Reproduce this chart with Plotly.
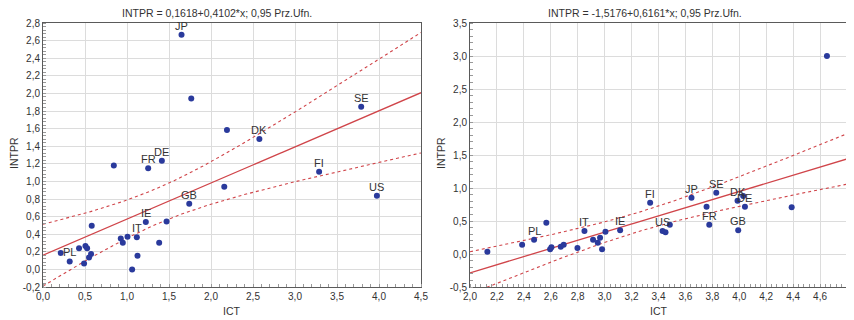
import numpy as np
import plotly.graph_objects as go

# ---------------- data ----------------
# Left panel
L_x = [0.843, 1.252, 1.415, 2.158, 3.287, 3.975, 1.741, 1.224, 1.471, 0.580,
       1.117, 1.006, 0.926, 0.950, 1.383, 0.429, 0.505, 0.525, 0.211, 0.318,
       0.572, 0.548, 0.489, 1.125, 1.061, 1.649, 1.765, 2.190, 2.576, 3.788]
L_y = [1.180, 1.150, 1.235, 0.940, 1.110, 0.837, 0.746, 0.538, 0.545, 0.496,
       0.364, 0.371, 0.352, 0.303, 0.303, 0.239, 0.265, 0.239, 0.186, 0.091,
       0.174, 0.136, 0.068, 0.155, 0.000, 2.667, 1.943, 1.585, 1.482, 1.848]
L_lab = ["", "FR", "DE", "", "FI", "US", "GB", "IE", "", "",
         "IT", "", "", "", "", "", "", "", "", "PL",
         "", "", "", "", "", "JP", "", "", "DK", "SE"]
L_coef = (0.1618, 0.4102)
L_title = "INTPR = 0,1618+0,4102*x; 0,95 Prz.Ufn."

# Right panel
R_x = [2.129, 2.387, 2.476, 2.567, 2.595, 2.605, 2.674, 2.696, 2.798, 2.850,
       2.914, 2.949, 2.966, 2.981, 3.006, 3.115, 3.338, 3.430, 3.452, 3.484,
       3.645, 3.757, 3.777, 3.829, 3.987, 4.029, 4.042, 3.992, 4.389, 4.651]
R_y = [0.035, 0.141, 0.217, 0.475, 0.071, 0.101, 0.111, 0.141, 0.091, 0.348,
       0.217, 0.172, 0.247, 0.071, 0.338, 0.359, 0.778, 0.348, 0.328, 0.444,
       0.854, 0.717, 0.444, 0.929, 0.808, 0.879, 0.717, 0.359, 0.707, 3.000]
R_lab = ["", "", "PL", "", "", "", "", "", "", "IT",
         "", "", "", "", "", "IE", "FI", "US", "", "",
         "JP", "", "FR", "SE", "DK", "", "DE", "GB", "", ""]
R_coef = (-1.5176, 0.6161)
R_title = "INTPR = -1,5176+0,6161*x; 0,95 Prz.Ufn."

L_xticks = [0.0, 0.5, 1.0, 1.5, 2.0, 2.5, 3.0, 3.5, 4.0, 4.5]
L_yticks = [-0.2, 0.0, 0.2, 0.4, 0.6, 0.8, 1.0, 1.2, 1.4, 1.6, 1.8, 2.0, 2.2, 2.4, 2.6, 2.8]
R_xticks = [2.0, 2.2, 2.4, 2.6, 2.8, 3.0, 3.2, 3.4, 3.6, 3.8, 4.0, 4.2, 4.4, 4.6, 4.8]
R_yticks = [-0.5, 0.0, 0.5, 1.0, 1.5, 2.0, 2.5, 3.0, 3.5]

T_CRIT = 2.048  # t(0.975, df=28)

X_TITLE = "ICT"
Y_TITLE = "INTPR"

# ---------------- styling ----------------
OFF = 8                      # default page body margin
W, H = 854 - OFF, 320 - OFF  # figure size so that it fills the window
FONT = "Liberation Sans, Arial, sans-serif"
PT_COLOR = "#2a3a9c"
LINE_COLOR = "#d0454a"
GRID = "#dcdcdc"
FRAME = "#5a5a5a"
TXT = "#333333"


def px_x(p):
    return (p - OFF) / W


def px_y(p):
    return 1 - (p - OFF) / H


fig = go.Figure()
ann = []


def fmt(v):
    return ("%.1f" % v).replace(".", ",")


def add_panel(xs, ys, labs, coef, xticks, yticks, xa, ya, xdom):
    xs = np.array(xs); ys = np.array(ys)
    b0, b1 = coef
    n = len(xs)
    resid = ys - (b0 + b1 * xs)
    s = np.sqrt(np.sum(resid ** 2) / (n - 2))
    m = xs.mean()
    sxx = np.sum((xs - m) ** 2)
    gx = np.linspace(xticks[0], xticks[-1], 200)
    fit = b0 + b1 * gx
    hw = T_CRIT * s * np.sqrt(1.0 / n + (gx - m) ** 2 / sxx)
    axn = "" if xa == "x" else xa[1:]
    for yy, dash, w in [(fit, "solid", 1.3), (fit + hw, "dot", 1.1), (fit - hw, "dot", 1.1)]:
        fig.add_trace(go.Scatter(x=gx, y=yy, mode="lines", xaxis=xa, yaxis=ya,
                                 line=dict(color=LINE_COLOR, width=w, dash=dash),
                                 hoverinfo="skip", showlegend=False))
    fig.add_trace(go.Scatter(x=xs, y=ys, mode="markers",
                             marker=dict(color=PT_COLOR, size=6),
                             xaxis=xa, yaxis=ya, showlegend=False, cliponaxis=False))
    for x0, y0, lab in zip(xs, ys, labs):
        if lab:
            ann.append(dict(text=lab, x=x0, y=y0, xref=xa, yref=ya, showarrow=False,
                            yshift=9, xanchor="center", yanchor="middle",
                            font=dict(family=FONT, size=11, color=TXT)))
    common = dict(showgrid=True, gridcolor=GRID, gridwidth=1, zeroline=False,
                  showline=True, linecolor=FRAME, linewidth=1, mirror=True,
                  tickfont=dict(family=FONT, size=10, color=TXT),
                  ticks="", ticklen=0, automargin=False)
    fig.layout["xaxis" + axn] = dict(
        domain=xdom, anchor=ya, range=[xticks[0], xticks[-1]],
        tickvals=xticks, ticktext=[fmt(v) for v in xticks],
        minor=dict(ticks="inside", ticklen=3, tickcolor="#999999",
                   dtick=(xticks[1] - xticks[0]) / 5, showgrid=False),
        **common)
    fig.layout["yaxis" + axn] = dict(
        domain=[px_y(287), px_y(23)], anchor=xa, range=[yticks[0], yticks[-1]],
        tickvals=yticks, ticktext=[fmt(v) for v in yticks],
        minor=dict(ticks="inside", ticklen=3, tickcolor="#999999",
                   dtick=(yticks[1] - yticks[0]) / 5, showgrid=False),
        **common)


add_panel(L_x, L_y, L_lab, L_coef, L_xticks, L_yticks, "x", "y", [px_x(43), px_x(421)])
add_panel(R_x, R_y, R_lab, R_coef, R_xticks, R_yticks, "x2", "y2", [px_x(470), px_x(847)])

for title, cx, ax_c in [(L_title, 217, 232), (R_title, 645, 659)]:
    ann.append(dict(text=title, x=px_x(cx), y=px_y(13), xref="paper", yref="paper",
                    showarrow=False, font=dict(family=FONT, size=10.5, color=TXT),
                    xanchor="center", yanchor="middle"))
    ann.append(dict(text=X_TITLE, x=px_x(ax_c), y=px_y(311), xref="paper", yref="paper",
                    showarrow=False, font=dict(family=FONT, size=10.5, color=TXT),
                    xanchor="center", yanchor="middle"))
for px in [14, 441]:
    ann.append(dict(text=Y_TITLE, x=px_x(px), y=px_y(153), xref="paper", yref="paper",
                    showarrow=False, textangle=-90,
                    font=dict(family=FONT, size=10.5, color=TXT),
                    xanchor="center", yanchor="middle"))

fig.update_layout(width=W, height=H, margin=dict(l=0, r=0, t=0, b=0),
                  paper_bgcolor="white", plot_bgcolor="white",
                  annotations=ann, showlegend=False)

fig.write_html("out.html")
